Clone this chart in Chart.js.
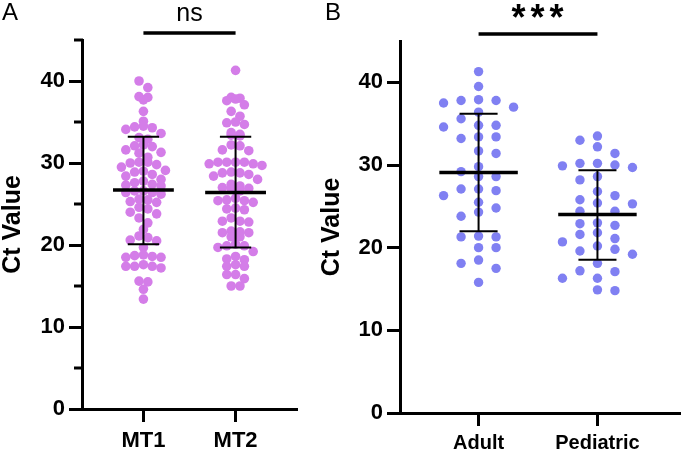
<!DOCTYPE html>
<html><head><meta charset="utf-8">
<script src="https://cdn.jsdelivr.net/npm/chart.js@4.4.1/dist/chart.umd.min.js"></script>
<style>
html,body{margin:0;padding:0;background:#fff;width:685px;height:453px;overflow:hidden}
canvas{position:absolute;top:0}
#cA{left:0}
#cB{left:305px}
</style></head><body>
<canvas id="cA" width="305" height="453"></canvas>
<canvas id="cB" width="380" height="453"></canvas>
<script>
// ---------- Panel A data ----------
const panelACategories = ['MT1', 'MT2'];
const mt1Values = [40.0,39.2,38.1,38.0,37.7,36.3,35.1,34.5,34.3,34.4,
  34.1,33.6,33.1,32.9,32.2,32.0,32.1,31.6,31.3,31.2,
  30.7,30.1,30.1,30.0,29.8,29.5,29.1,29.0,28.9,28.6,
  28.4,28.0,27.8,27.6,27.4,27.3,27.2,26.6,26.6,26.4,
  26.4,26.2,25.6,25.5,25.3,25.2,24.6,24.4,24.0,23.8,
  23.3,22.7,21.9,21.1,20.9,20.6,20.5,19.7,18.8,18.7,
  18.6,18.5,18.5,17.6,17.4,17.4,17.4,17.2,15.6,15.5,
  14.6,13.4];
const mt2Values = [41.3,38.0,37.9,37.8,37.6,37.1,36.3,35.7,35.0,34.9,
  34.7,33.7,33.5,33.4,33.3,32.2,32.1,31.6,31.5,30.1,
  30.1,30.1,30.1,29.9,29.9,29.7,28.9,28.8,28.8,28.6,
  28.4,28.0,27.4,27.2,27.0,26.9,26.8,26.6,25.7,25.5,
  25.4,25.4,25.2,24.5,24.4,24.3,23.3,22.9,22.9,22.8,
  21.7,21.6,21.5,21.5,21.0,21.0,20.1,19.9,19.9,19.7,
  19.2,18.6,18.3,18.2,17.6,17.4,17.4,16.4,16.4,15.9,
  15.0,15.0];
const panelAMeans = [26.7, 26.4];
const panelASdUpper = [33.2, 33.2];
const panelASdLower = [20.1, 19.7];
const panelAYTicks = [0, 10, 20, 30, 40];
const panelAYMinorTicks = [5, 15, 25, 35, 45];
const panelASignificance = 'ns';

// ---------- Panel B data ----------
const panelBCategories = ['Adult', 'Pediatric'];
const adultValues = [41.3,39.5,37.9,37.8,37.8,37.5,37.0,36.4,35.6,34.8,
  34.8,34.6,33.4,33.4,33.2,31.7,31.4,29.8,29.2,28.6,
  28.6,27.1,27.1,26.9,26.3,25.5,24.8,24.3,23.8,21.4,
  21.3,21.3,20.0,20.0,18.5,18.1,17.5,15.8];
const pediatricValues = [33.5,33.0,32.2,31.4,30.2,30.2,30.0,29.9,29.7,28.6,
  28.2,26.8,26.3,25.8,25.4,25.3,24.4,24.4,23.0,22.9,
  22.7,21.8,21.6,21.1,20.7,20.2,19.8,19.6,19.2,18.1,
  17.2,17.1,16.3,16.3,14.9,14.8];
const panelBMeans = [29.1, 24.0];
const panelBSdUpper = [36.2, 29.35];
const panelBSdLower = [22.0, 18.55];
const panelBYTicks = [0, 10, 20, 30, 40];
const panelBSignificance = '***';

const FONT = "'Liberation Sans', Arial, Helvetica, sans-serif";

const extras = {
  id: 'extras',
  afterDraw(chart, args, o) {
    const ctx = chart.ctx, xs = chart.scales.x, ys = chart.scales.y;
    ctx.save();
    ctx.strokeStyle = '#000'; ctx.fillStyle = '#000';
    if (o.minor) {
      ctx.lineWidth = 3;
      o.minor.forEach(v => {
        const y = ys.getPixelForValue(v);
        ctx.beginPath(); ctx.moveTo(ys.right - o.minorLen, y); ctx.lineTo(ys.right + 1, y); ctx.stroke();
      });
    }
    const x1 = xs.getPixelForValue(1), x2 = xs.getPixelForValue(2);
    ctx.lineWidth = 3.5;
    ctx.beginPath(); ctx.moveTo(x1, o.bracketY); ctx.lineTo(x2, o.bracketY); ctx.stroke();
    ctx.font = o.sigFont;
    ctx.textAlign = 'center'; ctx.textBaseline = 'alphabetic';
    if (o.sigSpacing) ctx.letterSpacing = o.sigSpacing;
    ctx.fillText(o.sig, (x1 + x2) / 2 + (o.sigShift || 0), o.sigY);
    ctx.letterSpacing = '0px';
    ctx.font = '24px ' + FONT;
    ctx.textAlign = 'left';
    ctx.fillText(o.letter, o.letterX, 20);
    ctx.restore();
  }
};

// horizontal offsets (px) for the dots of one group
function layoutBinned(pts, p) {
  // GraphPad-like: group points into horizontal rows, spread each row symmetrically
  const bins = new Map();
  pts.forEach(pt => {
    const b = Math.floor(pt.py / p.binH);
    if (!bins.has(b)) bins.set(b, []);
    bins.get(b).push(pt);
  });
  bins.forEach(list => {
    list.sort((a, b) => a.py - b.py);
    const n = list.length;
    const slots = [];
    for (let j = 0; j < n; j++) slots.push((j - (n - 1) / 2) * p.step);
    slots.sort((a, b) => Math.abs(a) - Math.abs(b) || a - b);
    list.forEach((pt, j) => { pt.off = slots[j]; });
  });
}
function layoutSwarm(pts, p) {
  const placed = [];
  let flip = 1;
  pts.sort((a, b) => a.py - b.py).forEach(pt => {
    for (let k = 0; k < 40; k++) {
      const cands = k === 0 ? [0] : [-k * p.step * flip, k * p.step * flip];
      let ok = null;
      for (const off of cands) {
        if (placed.every(q => Math.hypot(q.off - off, q.py - pt.py) >= p.minDist)) { ok = off; break; }
      }
      if (ok !== null) { pt.off = ok; placed.push(pt); if (ok !== 0) flip = -flip; break; }
    }
  });
}

function buildPanel(el, p) {
  const datasets = p.groups.map((vals, i) => ({
    type: 'scatter',
    data: vals.map(v => ({ x: i + 1, y: v })),
    pointRadius: p.radius, pointBackgroundColor: p.color, pointBorderWidth: 0,
    borderWidth: 0, order: 2
  }));
  const seg = (x1, y1, x2, y2, w) => datasets.push({
    type: 'line', data: [{ x: x1, y: y1 }, { x: x2, y: y2 }],
    borderColor: '#000', borderWidth: w, pointRadius: 0, order: 1,
    borderCapStyle: 'butt', clip: false, fill: false
  });
  p.groups.forEach((vals, i) => {
    const x = i + 1;
    seg(x, p.lower[i], x, p.upper[i], 2);
    seg(x - p.capHalf, p.upper[i], x + p.capHalf, p.upper[i], 2);
    seg(x - p.capHalf, p.lower[i], x + p.capHalf, p.lower[i], 2);
    seg(x - p.meanHalf, p.means[i], x + p.meanHalf, p.means[i], 3.5);
  });
  const chart = new Chart(el, {
    data: { datasets },
    plugins: [extras],
    options: {
      responsive: false, animation: false, events: [],
      layout: { padding: { top: p.top, right: p.right, left: 0, bottom: 0 } },
      plugins: { legend: { display: false }, tooltip: { enabled: false }, extras: p.extras },
      scales: {
        x: {
          type: 'linear', min: p.xMin, max: p.xMax,
          afterBuildTicks: s => { s.ticks = p.categories.map((c, i) => ({ value: i + 1 })); },
          ticks: {
            callback: v => p.categories[v - 1], color: '#000', padding: p.xPad,
            font: { family: FONT, weight: 'bold', size: p.xFont }, maxRotation: 0, autoSkip: false
          },
          grid: { drawOnChartArea: false, tickLength: 13, tickWidth: 3, tickColor: '#000' },
          border: { color: '#000', width: 3 },
          afterFit: s => { s.height = p.xHeight; }
        },
        y: {
          type: 'linear', min: 0, max: 45,
          afterBuildTicks: s => { s.ticks = p.yTicks.map(v => ({ value: v })); },
          ticks: { color: '#000', padding: 4, font: { family: FONT, weight: 'bold', size: p.yFont } },
          grid: { drawOnChartArea: false, tickLength: 13, tickWidth: 3, tickColor: '#000' },
          border: { color: '#000', width: 3 },
          title: {
            display: true, text: 'Ct Value', color: '#000',
            font: { family: FONT, weight: 'bold', size: 25, lineHeight: 1 },
            padding: { top: p.titlePad, bottom: 0 }
          },
          afterFit: s => { s.width = p.yWidth; }
        }
      }
    }
  });
  const xs = chart.scales.x, ys = chart.scales.y;
  p.groups.forEach((vals, gi) => {
    const cx = xs.getPixelForValue(gi + 1);
    const pts = vals.map(v => ({ v, py: ys.getPixelForValue(v), off: 0 }));
    (p.mode === 'bin' ? layoutBinned : layoutSwarm)(pts, p);
    chart.data.datasets[gi].data = pts.map(q => ({ x: xs.getValueForPixel(cx + q.off), y: q.v }));
  });
  chart.update('none');
  return chart;
}

buildPanel(document.getElementById('cA'), {
  groups: [mt1Values, mt2Values], categories: panelACategories,
  means: panelAMeans, upper: panelASdUpper, lower: panelASdLower,
  yTicks: panelAYTicks, color: '#d47de8', radius: 4.8,
  mode: 'bin', binH: 9, step: 8.8, capHalf: 0.17, meanHalf: 0.33,
  top: 40, right: 8, xHeight: 44, yWidth: 82, xMin: 1 / 3, xMax: 8 / 3,
  xPad: 6, xFont: 22, yFont: 22, titlePad: 1,
  extras: { minor: panelAYMinorTicks, minorLen: 8, bracketY: 33, sig: panelASignificance,
            sigFont: '25px ' + FONT, sigY: 21, letter: 'A', letterX: 2 }
});
buildPanel(document.getElementById('cB'), {
  groups: [adultValues, pediatricValues], categories: panelBCategories,
  means: panelBMeans, upper: panelBSdUpper, lower: panelBSdLower,
  yTicks: panelBYTicks, color: '#8080f2', radius: 4.7,
  mode: 'swarm', step: 17.5, minDist: 9.4, capHalf: 0.16, meanHalf: 0.33,
  top: 41, right: 2, xHeight: 40, yWidth: 95, xMin: 0.339, xMax: 2.697,
  xPad: 5, xFont: 20, yFont: 22, titlePad: 15,
  extras: { bracketY: 34, sig: panelBSignificance, sigFont: 'bold 36px ' + FONT,
            sigSpacing: '5px', sigShift: 2, sigY: 30, letter: 'B', letterX: 20 }
});
</script>
</body></html>
